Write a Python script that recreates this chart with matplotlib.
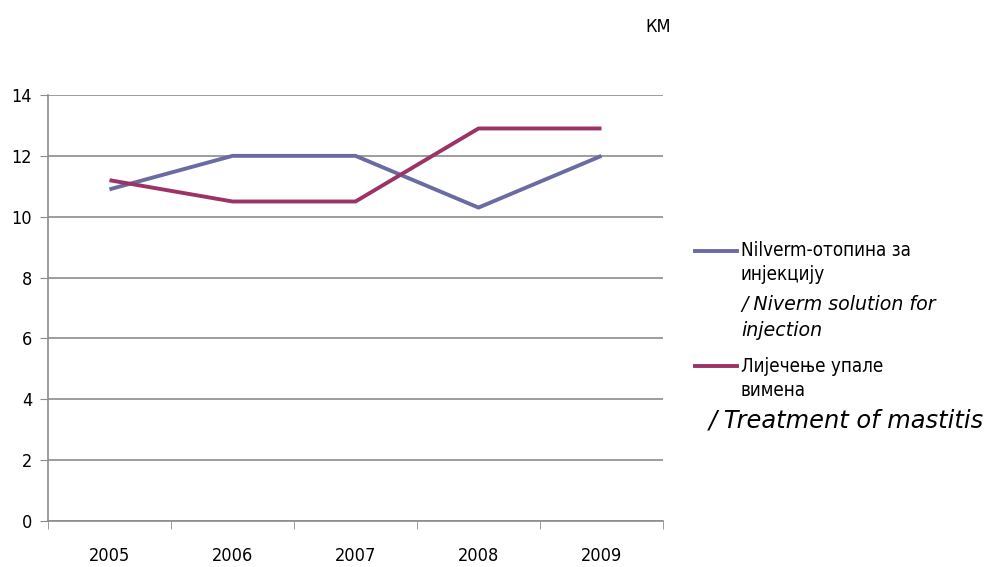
import matplotlib.pyplot as plt
from matplotlib.lines import Line2D
from matplotlib import font_manager

godine = ["2005", "2006", "2007", "2008", "2009"]
nilverm = [10.9, 12.0, 12.0, 10.3, 12.0]
mastitis = [11.2, 10.5, 10.5, 12.9, 12.9]

boja_nilverm = "#6b6ba3"
boja_mastitis = "#9b3366"
siva = "#8c8c8c"

uski = font_manager.FontProperties(family="DejaVu Sans", stretch="condensed", size=13)

fig = plt.figure(figsize=(9.89, 5.67), dpi=100)
ax = fig.add_axes([48 / 989, 1 - 521 / 567, (663 - 48) / 989, (521 - 95) / 567])

x = range(len(godine))
ax.plot(x, nilverm, color=boja_nilverm, lw=2.8, solid_capstyle="butt")
ax.plot(x, mastitis, color=boja_mastitis, lw=2.8, solid_capstyle="butt")

ax.set_xlim(-0.5, len(godine) - 0.5)
ax.set_ylim(0, 14)
ax.set_yticks(range(0, 15, 2))
ax.yaxis.grid(True, color=siva, lw=1.2)
ax.set_axisbelow(True)

# kategorije: oznake u sredini, crtice na granicama
ax.set_xticks(list(x))
ax.set_xticklabels(godine, fontproperties=uski)
ax.tick_params(axis="x", length=0, pad=19)
ax.set_xticks([i - 0.5 for i in range(len(godine) + 1)], minor=True)
ax.tick_params(axis="x", which="minor", length=6, color=siva, direction="out")
ax.tick_params(axis="y", length=6, color=siva, direction="out", pad=5.5)
for lbl in ax.get_yticklabels():
    lbl.set_fontproperties(uski)

for s in ["top", "right"]:
    ax.spines[s].set_visible(False)
for s in ["left", "bottom"]:
    ax.spines[s].set_color(siva)
    ax.spines[s].set_linewidth(1.2)

fig.text(645 / 989, 1 - 27 / 567, "КМ", fontproperties=uski, ha="left", va="center")

# legenda
uski_leg = uski.copy()
uski_leg.set_size(13.5)


def linija(y, boja):
    fig.add_artist(Line2D([695 / 989, 737 / 989], [1 - y / 567, 1 - y / 567],
                          color=boja, lw=2.8, transform=fig.transFigure))


def tekst(x, y, s, **kw):
    fig.text(x / 989, 1 - y / 567, s, ha="left", va="center", **kw)


linija(251, boja_nilverm)
tekst(741, 251, "Nilverm-отопина за", fontproperties=uski_leg)
tekst(741, 274, "инјекцију", fontproperties=uski_leg)
tekst(741, 304, "/ Niverm solution for", family="DejaVu Sans", style="italic", fontsize=13.7)
tekst(741, 331, "injection", family="DejaVu Sans", style="italic", fontsize=13.7)

linija(366, boja_mastitis)
tekst(741, 366, "Лијечење упале", fontproperties=uski_leg)
tekst(741, 390, "вимена", fontproperties=uski_leg)
tekst(709, 421, "/ Treatment of mastitis", family="DejaVu Sans", style="italic", fontsize=17.4)

fig.savefig("out.png", dpi=100)
